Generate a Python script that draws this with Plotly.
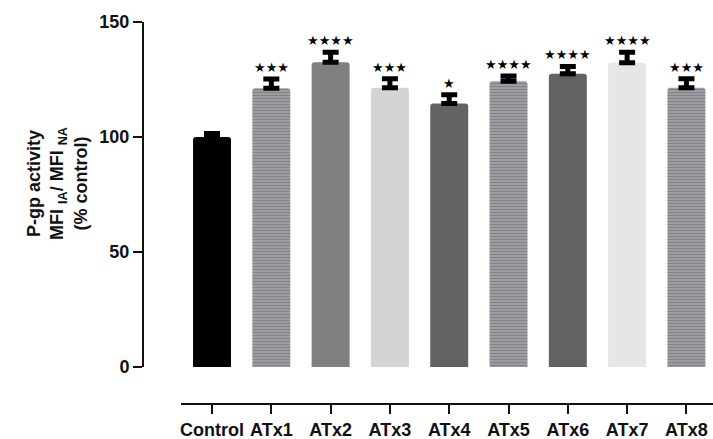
import plotly.graph_objects as go

categories = ["Control", "ATx1", "ATx2", "ATx3", "ATx4", "ATx5", "ATx6", "ATx7", "ATx8"]
values = [100, 121.2, 132.5, 121.4, 114.6, 124.2, 127.5, 132.3, 121.4]
errors = [1.5, 4.0, 4.3, 3.9, 3.8, 2.3, 3.2, 4.5, 3.9]
significance = ["", "***", "****", "***", "*", "****", "****", "****", "***"]
colors = ["#000000", "#9c9ca2", "#7f7f7f", "#d4d4d4", "#626262",
          "#9c9ca2", "#626262", "#e6e6e6", "#9c9ca2"]
striped = [False, True, False, False, False, True, False, False, True]

FONT = "Liberation Sans, Arial, sans-serif"

fig = go.Figure()
fig.add_trace(go.Bar(
    x=list(range(len(categories))),
    y=values,
    width=0.64,
    marker=dict(
        color=colors,
        line=dict(width=0),
        cornerradius=3,
        pattern=dict(
            shape=["-" if s else "" for s in striped],
            fgcolor="#a2a2a7",
            size=3,
            solidity=0.2,
        ),
    ),
    error_y=dict(
        type="data", symmetric=False, array=errors,
        arrayminus=[0] * len(errors),
        color="#000000", thickness=5, width=8,
    ),
    hoverinfo="skip",
))

for i, (v, e, s) in enumerate(zip(values, errors, significance)):
    if s:
        fig.add_annotation(
            x=i, y=v + e, xref="x", yref="y",
            text="★" * len(s),
            showarrow=False, yanchor="bottom", yshift=2,
            font=dict(family="DejaVu Sans", size=13, color="#000000"),
        )

fig.add_annotation(
    x=-0.151, y=0.5785, xref="paper", yref="paper",
    text="<b>P-gp activity<br>MFI <sub>IA</sub>/ MFI <sub>NA</sub><br>(% control)</b>",
    showarrow=False, textangle=-90, xanchor="center", yanchor="middle",
    font=dict(family=FONT, size=18, color="#111111"),
)

fig.update_layout(
    width=713, height=439,
    margin=dict(l=143, r=0, t=22, b=35, autoexpand=False),
    paper_bgcolor="white", plot_bgcolor="white",
    showlegend=False,
    font=dict(family=FONT, size=18, color="#111111"),
    xaxis=dict(
        domain=[38 / 570, 1], anchor="free", position=0,
        range=[-0.523, 8.448],
        tickmode="array", tickvals=list(range(len(categories))), ticktext=categories,
        showline=True, linecolor="#111111", linewidth=2,
        ticks="outside", ticklen=9, tickwidth=2, tickcolor="#111111",
        showgrid=False, zeroline=False,
        tickfont=dict(family=FONT, size=18, color="#111111", weight="bold"),
    ),
    yaxis=dict(
        domain=[37 / 382, 1], anchor="free", position=0,
        range=[0, 150],
        tickvals=[0, 50, 100, 150],
        showline=True, linecolor="#111111", linewidth=2,
        ticks="outside", ticklen=9, tickwidth=2, tickcolor="#111111",
        showgrid=False, zeroline=False,
        tickfont=dict(family=FONT, size=18, color="#111111", weight="bold"),
    ),
)

fig.write_html("out.html", config={"displayModeBar": False},
               post_script="document.body.style.margin='0px';")
